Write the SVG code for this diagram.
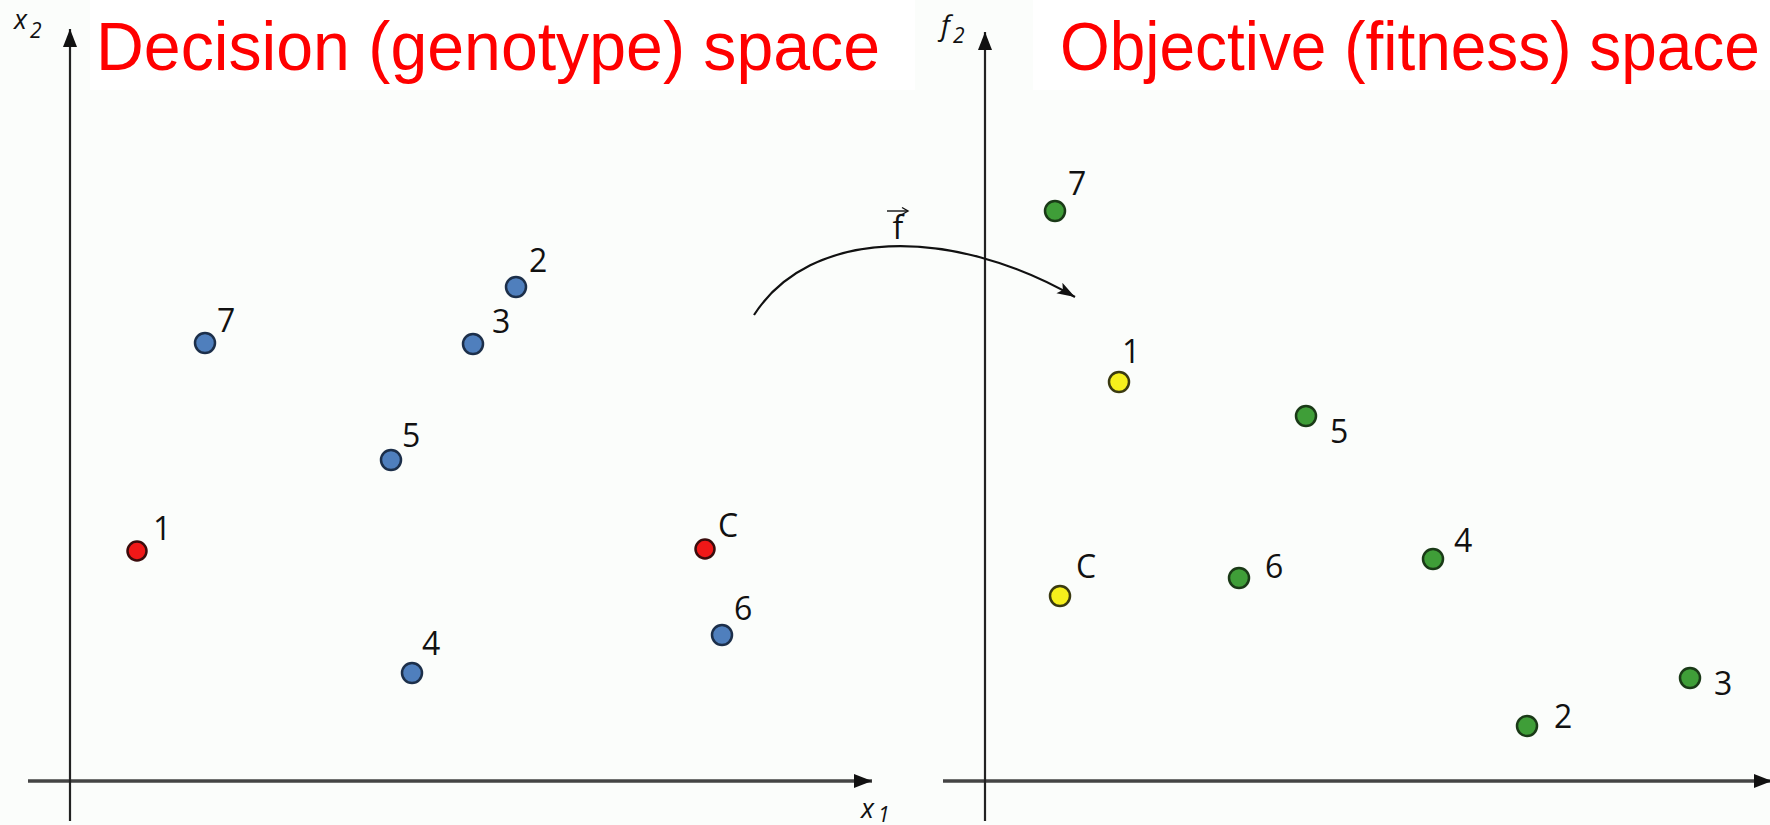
<svg xmlns="http://www.w3.org/2000/svg" width="1770" height="825" viewBox="0 0 1770 825">
<defs>
<marker id="ah" markerUnits="userSpaceOnUse" markerWidth="20" markerHeight="14" refX="18" refY="7" orient="auto">
<path d="M0,0 L18,7 L0,14 Z" fill="#111"/>
</marker>
<marker id="ah2" markerUnits="userSpaceOnUse" markerWidth="20" markerHeight="14" refX="18" refY="7" orient="auto">
<path d="M0,1 L18,7 L0,13 L4,7 Z" fill="#111"/>
</marker>
</defs>
<style>
.title{font-family:"Liberation Sans",Arial,sans-serif;font-size:68px;fill:#ff0000}
.lbl{font-family:"Open Sans","Liberation Sans",sans-serif;font-size:32px;fill:#111}
.ax{font-family:"Open Sans","Liberation Sans",sans-serif;font-style:italic;fill:#111}
.axis{stroke:#222;stroke-width:2.2;fill:none}
.haxis{stroke:#444;stroke-width:3.5;fill:none}
.blue{fill:#4f7fbd;stroke:#1c2f4a;stroke-width:2.5}
.red{fill:#f01818;stroke:#3a0c0c;stroke-width:2.5}
.green{fill:#3f9e38;stroke:#1a3a17;stroke-width:2.5}
.yellow{fill:#f6f01c;stroke:#3a3a10;stroke-width:2.5}
</style>
<rect x="0" y="0" width="1770" height="825" fill="#fbfdfb"/>
<rect x="90" y="0" width="825" height="90" fill="#ffffff"/>
<rect x="1033" y="0" width="737" height="90" fill="#ffffff"/>

<g id="titles">
<text class="title" transform="translate(96,70) scale(0.974,1)" x="0" y="0">Decision (genotype) space</text>
<text class="title" transform="translate(1060,70) scale(0.94,1)" x="0" y="0">Objective (fitness) space</text>
</g>

<g id="axes">
<line class="haxis" x1="28" y1="781" x2="872" y2="781" marker-end="url(#ah)"/>
<line class="axis" x1="70" y1="821" x2="70" y2="29" marker-end="url(#ah)"/>
<line class="haxis" x1="943" y1="781" x2="1772" y2="781" marker-end="url(#ah)"/>
<line class="axis" x1="985" y1="821" x2="985" y2="32" marker-end="url(#ah)"/>
<text class="ax" x="14" y="29" font-size="27">x</text><text class="ax" x="30" y="38" font-size="21" font-style="normal">2</text>
<text class="ax" x="941" y="35" font-size="28">f</text><text class="ax" x="953" y="43" font-size="21" font-style="normal">2</text>
<text class="ax" x="861" y="818" font-size="27">x</text><text class="ax" x="878" y="822" font-size="21">1</text>
</g>

<g id="connectors">
<path d="M754,315 C810,228 950,225 1075,297" fill="none" stroke="#111" stroke-width="2.2" marker-end="url(#ah2)"/>
<text class="lbl" x="898" y="239" font-size="22" text-anchor="middle" font-family="Liberation Sans, sans-serif">f</text>
<line x1="887" y1="211" x2="907" y2="211" stroke="#111" stroke-width="1.4"/>
<path d="M902,207.5 L908,211 L902,214.5" fill="none" stroke="#111" stroke-width="1.4"/>
</g>

<g id="decision-space">
<g id="d7"><circle class="blue" cx="205" cy="343" r="10"/><text class="lbl" x="217" y="332">7</text></g>
<g id="d2"><circle class="blue" cx="516" cy="287" r="10"/><text class="lbl" x="529" y="272">2</text></g>
<g id="d3"><circle class="blue" cx="473" cy="344" r="10"/><text class="lbl" x="492" y="333">3</text></g>
<g id="d5"><circle class="blue" cx="391" cy="460" r="10"/><text class="lbl" x="402" y="447">5</text></g>
<g id="d1"><circle class="red" cx="137" cy="551" r="9.5"/><text class="lbl" x="153" y="540">1</text></g>
<g id="dC"><circle class="red" cx="705" cy="549" r="9.5"/><text class="lbl" x="718" y="537">C</text></g>
<g id="d6"><circle class="blue" cx="722" cy="635" r="10"/><text class="lbl" x="734" y="620">6</text></g>
<g id="d4"><circle class="blue" cx="412" cy="673" r="10"/><text class="lbl" x="422" y="655">4</text></g>
</g>

<g id="objective-space">
<g id="o7"><circle class="green" cx="1055" cy="211" r="10"/><text class="lbl" x="1068" y="195">7</text></g>
<g id="o1"><circle class="yellow" cx="1119" cy="382" r="10"/><text class="lbl" x="1122" y="363">1</text></g>
<g id="o5"><circle class="green" cx="1306" cy="416" r="10"/><text class="lbl" x="1330" y="443">5</text></g>
<g id="oC"><circle class="yellow" cx="1060" cy="596" r="10"/><text class="lbl" x="1076" y="578">C</text></g>
<g id="o6"><circle class="green" cx="1239" cy="578" r="10"/><text class="lbl" x="1265" y="578">6</text></g>
<g id="o4"><circle class="green" cx="1433" cy="559" r="10"/><text class="lbl" x="1454" y="552">4</text></g>
<g id="o2"><circle class="green" cx="1527" cy="726" r="10"/><text class="lbl" x="1554" y="728">2</text></g>
<g id="o3"><circle class="green" cx="1690" cy="678" r="10"/><text class="lbl" x="1714" y="695">3</text></g>
</g>
</svg>
